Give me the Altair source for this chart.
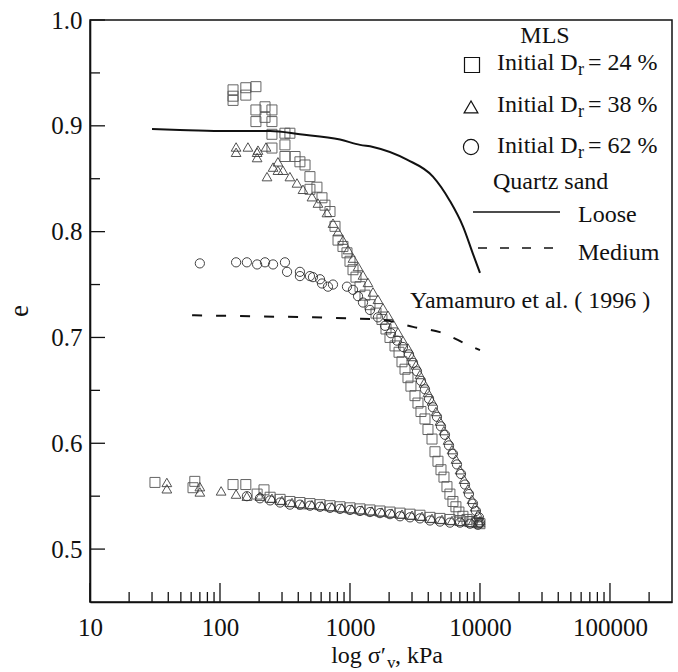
import altair as alt
import pandas as pd

FONT = "Liberation Serif, Times New Roman, Times, serif"

# ---------------- data: sigma'_v (kPa) and void ratio e ----------------
# MLS, initial Dr = 24 % (squares)
sq_load_sigma = [126, 126, 126, 158, 158, 189, 189, 189, 222, 222, 251, 251, 251, 251, 316, 316, 316, 345, 378,
                 412, 451, 492, 492, 557, 609, 642, 702, 767, 809, 883, 948, 1000, 1055, 1112, 1194, 1304, 1425,
                 1585, 1762, 1892, 2031, 2220, 2384, 2512, 2651, 2793, 2944, 3162, 3334, 3516, 3776, 3981, 4275,
                 4506, 4750, 5012, 5284, 5572, 5872, 6194, 6531, 6887, 7396, 7943, 8670, 9488]
sq_load_e = [0.934, 0.928, 0.924, 0.936, 0.929, 0.937, 0.915, 0.904, 0.918, 0.908, 0.915, 0.904, 0.892, 0.879,
             0.893, 0.882, 0.871, 0.893, 0.871, 0.866, 0.863, 0.852, 0.840, 0.842, 0.832, 0.825, 0.819, 0.805,
             0.792, 0.786, 0.780, 0.772, 0.764, 0.757, 0.748, 0.740, 0.731, 0.723, 0.717, 0.708, 0.700, 0.692,
             0.686, 0.677, 0.670, 0.662, 0.654, 0.645, 0.638, 0.630, 0.623, 0.613, 0.604, 0.592, 0.583, 0.575,
             0.568, 0.559, 0.552, 0.545, 0.540, 0.535, 0.531, 0.528, 0.526, 0.525]
sq_unl_sigma = [10000, 8377, 7017, 5872, 4922, 4124, 3453, 2896, 2426, 2031, 1701, 1425, 1194, 1000, 838, 702,
                588, 492, 412, 345, 290, 243, 193, 218, 158, 126, 64, 62, 31.6]
sq_unl_e = [0.524, 0.526, 0.527, 0.528, 0.529, 0.530, 0.532, 0.533, 0.534, 0.535, 0.536, 0.537, 0.538, 0.539,
            0.540, 0.541, 0.542, 0.543, 0.544, 0.545, 0.547, 0.549, 0.552, 0.556, 0.561, 0.561, 0.564, 0.558, 0.563]

# MLS, initial Dr = 38 % (triangles)
tr_load_sigma = [133, 133, 164, 193, 193, 196, 226, 230, 256, 279, 279, 305, 345, 391, 435, 510, 567, 665, 740,
                 809, 883, 966, 1055, 1153, 1259, 1375, 1503, 1641, 1794, 1960, 2142, 2340, 2558, 2793, 2999,
                 3220, 3453, 3707, 3981, 4275, 4588, 4922, 5284, 5675, 6093, 6531, 7017, 7534, 8091, 8670, 9155,
                 9657, 10000]
tr_load_e = [0.880, 0.875, 0.880, 0.875, 0.870, 0.877, 0.880, 0.852, 0.861, 0.866, 0.858, 0.858, 0.852, 0.846,
             0.840, 0.833, 0.827, 0.818, 0.808, 0.800, 0.792, 0.783, 0.775, 0.767, 0.759, 0.752, 0.743, 0.736,
             0.728, 0.721, 0.713, 0.705, 0.697, 0.690, 0.682, 0.674, 0.665, 0.657, 0.648, 0.640, 0.630, 0.621,
             0.612, 0.603, 0.594, 0.585, 0.575, 0.566, 0.557, 0.547, 0.540, 0.533, 0.527]
tr_unl_sigma = [10000, 8670, 7278, 6093, 5102, 4275, 3581, 2999, 2512, 2104, 1762, 1477, 1236, 1035, 867, 728,
                609, 510, 428, 358, 300, 251, 203, 161, 133, 102, 70, 70, 39, 39]
tr_unl_e = [0.525, 0.525, 0.526, 0.527, 0.528, 0.529, 0.531, 0.532, 0.533, 0.534, 0.535, 0.536, 0.537, 0.538,
            0.539, 0.540, 0.541, 0.542, 0.542, 0.544, 0.546, 0.548, 0.550, 0.550, 0.552, 0.555, 0.554, 0.559,
            0.557, 0.563]

# MLS, initial Dr = 62 % (circles)
ci_load_sigma = [70, 133, 161, 193, 222, 256, 316, 328, 412, 412, 492, 519, 588, 609, 677, 740, 948, 1055, 1153,
                 1259, 1425, 1641, 1859, 2065, 2300, 2558, 2844, 3053, 3276, 3516, 3776, 4055, 4347, 4667, 5012,
                 5379, 5777, 6194, 6654, 7145, 7670, 8226, 8830, 9311, 9822, 10000]
ci_load_e = [0.770, 0.771, 0.771, 0.769, 0.771, 0.769, 0.771, 0.762, 0.762, 0.758, 0.758, 0.757, 0.755, 0.751,
             0.748, 0.750, 0.748, 0.745, 0.739, 0.733, 0.726, 0.719, 0.711, 0.704, 0.697, 0.691, 0.684, 0.676,
             0.668, 0.659, 0.651, 0.642, 0.634, 0.625, 0.616, 0.608, 0.598, 0.590, 0.580, 0.571, 0.561, 0.552,
             0.543, 0.536, 0.530, 0.525]
ci_unl_sigma = [9657, 8377, 7017, 5872, 4922, 4124, 3453, 2896, 2426, 2031, 1701, 1425, 1194, 1000, 838, 702,
                588, 492, 412, 345, 290, 243, 203, 161]
ci_unl_e = [0.523, 0.524, 0.525, 0.525, 0.526, 0.527, 0.529, 0.530, 0.531, 0.533, 0.534, 0.535, 0.536, 0.537,
            0.538, 0.539, 0.540, 0.541, 0.542, 0.542, 0.544, 0.546, 0.548, 0.550]

# Quartz sand, Yamamuro et al. (1996)
loose_sigma = [30, 49, 100, 243, 412, 838, 1194, 1503, 2744, 4347, 5872, 7396, 8830, 10000]
loose_e = [0.897, 0.896, 0.895, 0.895, 0.892, 0.887, 0.882, 0.880, 0.868, 0.852, 0.829, 0.805, 0.779, 0.761]
medium_sigma = [61, 170, 519, 1000, 1701, 3053, 4922, 8091, 10000]
medium_e = [0.721, 0.720, 0.719, 0.718, 0.717, 0.710, 0.705, 0.693, 0.688]

# axis ticks / labels
x_major = [10, 100, 1000, 10000, 100000]
x_minor = [20, 30, 40, 50, 60, 70, 80, 90, 200, 300, 400, 500, 600, 700, 800, 900,
           2000, 3000, 4000, 5000, 6000, 7000, 8000, 9000,
           20000, 30000, 40000, 50000, 60000, 70000, 80000, 90000, 200000]
y_major = [0.5, 0.6, 0.7, 0.8, 0.9, 1.0]
y_minor = [0.55, 0.65, 0.75, 0.85, 0.95]

legend_labels = ["24 %", "38 %", "62 %"]

# ---------------- chart ----------------
W, H = 582, 582
xs = alt.Scale(type="log", domain=[10, 300000])
ys = alt.Scale(domain=[0.45, 1.0])

x_axis = alt.Axis(values=x_major, format="d", title="", ticks=False, labelPadding=33,
                  labelBaseline="alphabetic", labelFlush=False, labelOverlap=False, grid=False,
                  labelFont=FONT, labelFontSize=25, labelColor="#111", domainColor="#111", domainWidth=1.6)
y_axis = alt.Axis(values=y_major, format=".1f", title="", ticks=False, labelPadding=8,
                  labelFlush=False, labelOverlap=False, grid=False,
                  labelFont=FONT, labelFontSize=25, labelColor="#111", domainColor="#111", domainWidth=1.6)


def X(field="sigma"):
    return alt.X(field + ":Q", scale=xs, axis=x_axis)


def Y(field="e"):
    return alt.Y(field + ":Q", scale=ys, axis=y_axis)


def df(s, e):
    return pd.DataFrame({"sigma": s, "e": e})


def points(data, shape, size, color):
    return alt.Chart(data).mark_point(shape=shape, size=size, filled=False, strokeWidth=1.0,
                                      color=color, opacity=0.9).encode(x=X(), y=Y())


squares = points(df(sq_load_sigma + sq_unl_sigma, sq_load_e + sq_unl_e), "square", 100, "#555555")
triangles = points(df(tr_load_sigma + tr_unl_sigma, tr_load_e + tr_unl_e), "triangle-up", 95, "#3f3f3f")
circles = points(df(ci_load_sigma + ci_unl_sigma, ci_load_e + ci_unl_e), "circle", 85, "#2e2e2e")

loose = alt.Chart(df(loose_sigma, loose_e)).mark_line(
    color="#111", strokeWidth=2, interpolate="monotone").encode(x=X(), y=Y())
medium = alt.Chart(df(medium_sigma, medium_e)).mark_line(
    color="#111", strokeWidth=2, strokeDash=[10, 14], interpolate="monotone").encode(x=X(), y=Y())

# inward ticks drawn as short rules at the tick values
x_major_ticks = alt.Chart(pd.DataFrame({"sigma": x_major})).mark_rule(color="#111", strokeWidth=1.3).encode(
    x=X(), y=alt.value(H), y2=alt.value(H - 19))
x_minor_ticks = alt.Chart(pd.DataFrame({"sigma": x_minor})).mark_rule(color="#111", strokeWidth=1.3).encode(
    x=X(), y=alt.value(H), y2=alt.value(H - 10))
y_major_ticks = alt.Chart(pd.DataFrame({"e": y_major})).mark_rule(color="#111", strokeWidth=1.3).encode(
    y=Y(), x=alt.value(0), x2=alt.value(15))
y_minor_ticks = alt.Chart(pd.DataFrame({"e": y_minor})).mark_rule(color="#111", strokeWidth=1.3).encode(
    y=Y(), x=alt.value(0), x2=alt.value(10))

ONE = pd.DataFrame({"k": [0]})


def txt(s, x, y, size=24, align="left", angle=None):
    kw = dict(text=s, font=FONT, fontSize=size, align=align, baseline="alphabetic", color="#111")
    if angle is not None:
        kw["angle"] = angle
    return alt.Chart(ONE).mark_text(**kw).encode(x=alt.value(x), y=alt.value(y))


def sym(shape, x, y, size):
    return alt.Chart(ONE).mark_point(shape=shape, size=size, filled=False, color="#111",
                                     strokeWidth=1.2, opacity=1).encode(x=alt.value(x), y=alt.value(y))


annotations = [
    txt("MLS", 455, 23, align="center"),
    sym("square", 382, 45, 225),
    sym("triangle-up", 381, 87, 190),
    sym("circle", 381, 127, 230),
]
for lab, yb in zip(legend_labels, [50, 92, 133]):
    annotations += [
        txt("Initial D", 407, yb),
        txt("r", 488, yb + 5, size=18),
        txt("= " + lab, 498, yb),
    ]
annotations += [
    txt("Quartz sand", 403, 169),
    alt.Chart(ONE).mark_rule(color="#111", strokeWidth=1.6).encode(
        x=alt.value(383), x2=alt.value(470), y=alt.value(192)),
    txt("Loose", 488, 202),
    alt.Chart(ONE).mark_rule(color="#111", strokeWidth=1.6, strokeDash=[9, 13]).encode(
        x=alt.value(388), x2=alt.value(470), y=alt.value(228)),
    txt("Medium", 488, 240),
    txt("Yamamuro et al. ( 1996 )", 320, 288),
    # axis titles
    txt("e", -62, 291, size=27, align="center", angle=270),
    txt("log σ′", 296, 643, size=24, align="right"),
    txt("v", 297, 648, size=17),
    txt(", kPa", 305, 643, size=24),
]

chart = alt.layer(
    x_major_ticks, x_minor_ticks, y_major_ticks, y_minor_ticks,
    squares, triangles, circles, loose, medium,
    *annotations
).properties(
    width=W, height=H,
    padding={"left": 90, "top": 20, "right": 6, "bottom": 70},
    autosize=alt.AutoSizeParams(type="none"),
    background="white",
).configure_view(
    stroke="#111", strokeWidth=1.5
)

chart.save("out.html", embed_options={"renderer": "svg", "actions": False})
